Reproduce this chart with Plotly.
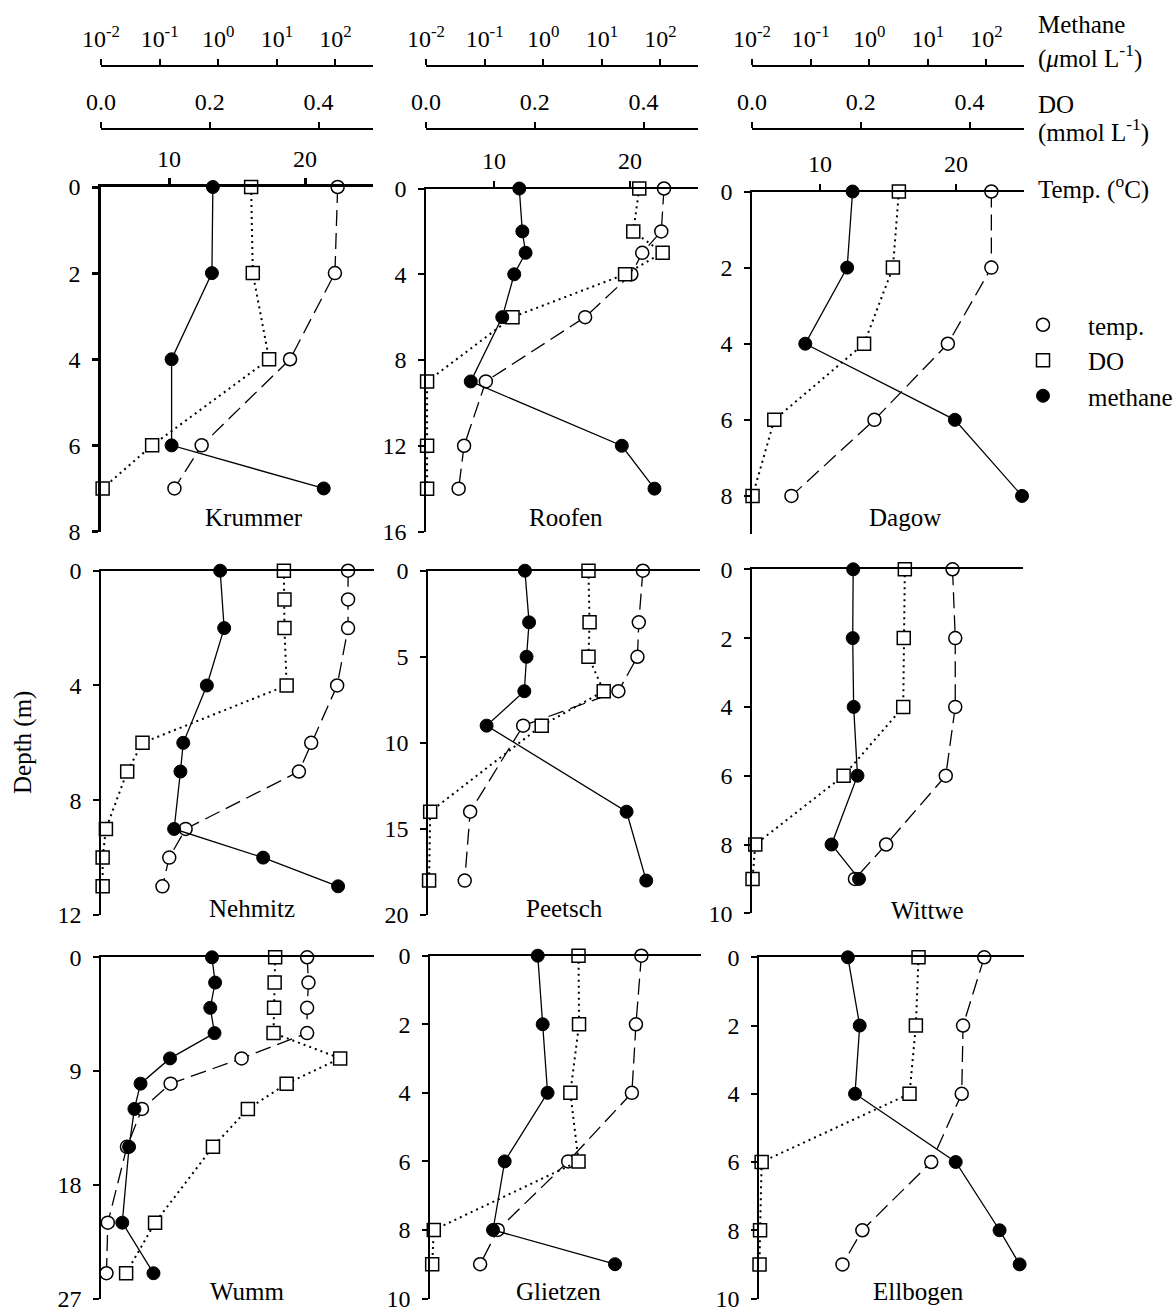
import plotly.graph_objects as go

FONT = "Liberation Serif"
W, H = 1174, 1310

# ---------------- data (depth in m) ----------------
LAKES = ["Krummer", "Roofen", "Dagow", "Nehmitz", "Peetsch", "Wittwe", "Wumm", "Glietzen", "Ellbogen"]

KRUMMER_DEPTH = [0, 2, 4, 6, 7]
KRUMMER_TEMP = [22.4, 22.2, 18.9, 12.4, 10.4]
KRUMMER_DO = [0.276, 0.279, 0.309, 0.094, 0.003]
KRUMMER_CH4 = [0.81, 0.78, 0.16, 0.16, 63]

ROOFEN_DEPTH = [0, 2, 3, 4, 6, 9, 12, 14]
ROOFEN_TEMP = [22.5, 22.3, 20.9, 20.1, 16.7, 9.4, 7.8, 7.4]
ROOFEN_DO = [0.392, 0.381, 0.435, 0.366, 0.159, 0.002, 0.002, 0.002]
ROOFEN_CH4 = [0.39, 0.44, 0.50, 0.32, 0.20, 0.058, 21.9, 79]

DAGOW_DEPTH = [0, 2, 4, 6, 8]
DAGOW_TEMP = [22.6, 22.6, 19.4, 14.0, 7.9]
DAGOW_DO = [0.270, 0.259, 0.206, 0.041, 0.001]
DAGOW_CH4 = [0.52, 0.42, 0.081, 28.9, 404]

NEHMITZ_DEPTH = [0, 1, 2, 4, 6, 7, 9, 10, 11]
NEHMITZ_TEMP = [23.1, 23.1, 23.1, 22.3, 20.4, 19.5, 11.2, 10.0, 9.5]
NEHMITZ_DO = [0.335, 0.336, 0.336, 0.340, 0.076, 0.048, 0.009, 0.003, 0.003]
NEHMITZ_CH4_DEPTH = [0, 2, 4, 6, 7, 9, 10, 11]
NEHMITZ_CH4 = [1.06, 1.24, 0.63, 0.25, 0.224, 0.175, 5.7, 107]

PEETSCH_DEPTH = [0, 3, 5, 7, 9, 14, 18]
PEETSCH_TEMP = [20.8, 20.5, 20.4, 19.0, 12.0, 8.1, 7.7]
PEETSCH_DO = [0.295, 0.297, 0.295, 0.323, 0.209, 0.004, 0.002]
PEETSCH_CH4 = [0.45, 0.53, 0.48, 0.44, 0.10, 24.4, 52.8]

WITTWE_DEPTH = [0, 2, 4, 6, 8, 9]
WITTWE_TEMP = [19.8, 20.0, 20.0, 19.3, 14.9, 12.6]
WITTWE_DO = [0.282, 0.280, 0.279, 0.169, 0.006, 0.001]
WITTWE_CH4 = [0.54, 0.53, 0.55, 0.64, 0.23, 0.68]

WUMM_DEPTH = [0, 2, 4, 6, 8, 10, 12, 15, 21, 25]
WUMM_TEMP = [20.1, 20.2, 20.1, 20.1, 15.3, 10.1, 8.0, 6.9, 5.5, 5.4]
WUMM_DO = [0.319, 0.318, 0.317, 0.316, 0.438, 0.340, 0.269, 0.205, 0.099, 0.046]
WUMM_CH4 = [0.77, 0.87, 0.72, 0.85, 0.149, 0.047, 0.037, 0.030, 0.023, 0.078]

GLIETZEN_DEPTH = [0, 2, 4, 6, 8, 9]
GLIETZEN_TEMP = [20.6, 20.2, 19.9, 15.2, 10.0, 8.7]
GLIETZEN_DO = [0.274, 0.275, 0.259, 0.274, 0.007, 0.004]
GLIETZEN_CH4 = [0.70, 0.85, 1.03, 0.19, 0.12, 14.7]

ELLBOGEN_DEPTH = [0, 2, 4, 6, 8, 9]
ELLBOGEN_TEMP = [22.0, 20.4, 20.3, 18.0, 12.8, 11.3]
ELLBOGEN_DO = [0.301, 0.296, 0.284, 0.005, 0.002, 0.001]
ELLBOGEN_CH4 = [0.36, 0.58, 0.48, 27.8, 163, 366]

DEPTH_MAX = [8, 16, 9, 12, 20, 10, 27, 10, 10]
DEPTH_STEP = [2, 4, 2, 4, 5, 2, 9, 2, 2]

TEMP_TICKS = [10, 20]
DO_TICKS = [0.0, 0.2, 0.4]
DO_LABELS = ["0.0", "0.2", "0.4"]
CH4_TICKS = [0.01, 0.1, 1, 10, 100]
CH4_LABELS = ["10<sup>-2</sup>", "10<sup>-1</sup>", "10<sup>0</sup>", "10<sup>1</sup>", "10<sup>2</sup>"]

SERIES = [
    (KRUMMER_DEPTH, KRUMMER_TEMP, KRUMMER_DEPTH, KRUMMER_DO, KRUMMER_DEPTH, KRUMMER_CH4),
    (ROOFEN_DEPTH, ROOFEN_TEMP, ROOFEN_DEPTH, ROOFEN_DO, ROOFEN_DEPTH, ROOFEN_CH4),
    (DAGOW_DEPTH, DAGOW_TEMP, DAGOW_DEPTH, DAGOW_DO, DAGOW_DEPTH, DAGOW_CH4),
    (NEHMITZ_DEPTH, NEHMITZ_TEMP, NEHMITZ_DEPTH, NEHMITZ_DO, NEHMITZ_CH4_DEPTH, NEHMITZ_CH4),
    (PEETSCH_DEPTH, PEETSCH_TEMP, PEETSCH_DEPTH, PEETSCH_DO, PEETSCH_DEPTH, PEETSCH_CH4),
    (WITTWE_DEPTH, WITTWE_TEMP, WITTWE_DEPTH, WITTWE_DO, WITTWE_DEPTH, WITTWE_CH4),
    (WUMM_DEPTH, WUMM_TEMP, WUMM_DEPTH, WUMM_DO, WUMM_DEPTH, WUMM_CH4),
    (GLIETZEN_DEPTH, GLIETZEN_TEMP, GLIETZEN_DEPTH, GLIETZEN_DO, GLIETZEN_DEPTH, GLIETZEN_CH4),
    (ELLBOGEN_DEPTH, ELLBOGEN_TEMP, ELLBOGEN_DEPTH, ELLBOGEN_DO, ELLBOGEN_DEPTH, ELLBOGEN_CH4),
]

# ---------------- geometry (page pixels) ----------------
P_LEFT = [101, 426, 752, 101, 428, 752, 101, 430, 759]
P_RIGHT = [373, 698, 1024, 374, 700, 1023, 374, 701, 1024]
P_TOP = [187, 188.5, 191.5, 570.7, 570.7, 569.3, 957.3, 955.7, 957.3]
P_BOT = [531.5, 531.5, 534, 915, 915, 913.3, 1298.5, 1298.5, 1298.5]
CH4_AXIS_Y = 66
DO_AXIS_Y = 128.5


def fx(px):
    return px / W


def fy(py):
    return 1 - py / H


TICKFONT = dict(family=FONT, size=24, color="black")
TEXTFONT = dict(family=FONT, size=25, color="black")


def xr(n):
    return "x" if n == 1 else f"x{n}"


def yr(n):
    return "y" if n == 1 else f"y{n}"


def xk(n):
    return "xaxis" if n == 1 else f"xaxis{n}"


def yk(n):
    return "yaxis" if n == 1 else f"yaxis{n}"


fig = go.Figure()
layout = {}

temp_marker = dict(symbol="circle", size=13, color="white", line=dict(color="black", width=1.5))
do_marker = dict(symbol="square", size=13, color="white", line=dict(color="black", width=1.5))
ch4_marker = dict(symbol="circle", size=13, color="black", line=dict(color="black", width=1))

for i, name in enumerate(LAKES):
    xt, xd, xm, yy = 3 * i + 1, 3 * i + 2, 3 * i + 3, i + 1
    first_row = i < 3
    lw = 2.6 if i == 0 else 1.6
    dom_x = [fx(P_LEFT[i]), fx(P_RIGHT[i])]
    dom_y = [fy(P_BOT[i]), fy(P_TOP[i])]

    layout[xk(xt)] = dict(
        domain=dom_x, range=[5, 25], side="top", anchor=yr(yy),
        showline=True, linecolor="black", linewidth=lw,
        ticks="outside" if first_row else "", tickvals=TEMP_TICKS, ticklen=6,
        tickwidth=lw, tickcolor="black", showticklabels=first_row,
        tickfont=TICKFONT, showgrid=False, zeroline=False, ticklabelstandoff=2,
        automargin=False, ticklabeloverflow="allow",
    )
    if first_row:
        layout[xk(xd)] = dict(
            domain=dom_x, range=[0, 0.5], overlaying=xr(xt), anchor="free",
            position=fy(DO_AXIS_Y), side="top", showline=True, linecolor="black",
            linewidth=2, ticks="outside", tickvals=DO_TICKS, ticktext=DO_LABELS,
            ticklen=6, tickwidth=2, tickcolor="black", tickfont=TICKFONT,
            showgrid=False, zeroline=False, ticklabelstandoff=2, automargin=False,
            ticklabeloverflow="allow",
        )
        layout[xk(xm)] = dict(
            domain=dom_x, type="log", range=[-2, 2.64], overlaying=xr(xt), anchor="free",
            position=fy(CH4_AXIS_Y), side="top", showline=True, linecolor="black",
            linewidth=2, ticks="outside", tickvals=CH4_TICKS, ticktext=CH4_LABELS,
            ticklen=6, tickwidth=2, tickcolor="black", tickfont=TICKFONT,
            showgrid=False, zeroline=False, ticklabelstandoff=2, automargin=False,
            ticklabeloverflow="allow",
        )
    else:
        layout[xk(xd)] = dict(domain=dom_x, range=[0, 0.5], overlaying=xr(xt),
                              anchor=yr(yy), visible=False)
        layout[xk(xm)] = dict(domain=dom_x, type="log", range=[-2, 2.64],
                              overlaying=xr(xt), anchor=yr(yy), visible=False)

    layout[yk(yy)] = dict(
        domain=dom_y, range=[DEPTH_MAX[i], 0], anchor=xr(xt),
        showline=True, linecolor="black", linewidth=lw, ticks="outside",
        tickvals=list(range(0, DEPTH_MAX[i] + 1, DEPTH_STEP[i])), ticklen=6,
        tickwidth=lw, tickcolor="black", tickfont=TICKFONT,
        showgrid=False, zeroline=False, ticklabelstandoff=7, automargin=False,
        ticklabeloverflow="allow",
    )

    td, tv, dd, dv, md, mv = SERIES[i]
    fig.add_trace(go.Scatter(
        x=tv, y=td, xaxis=xr(xt), yaxis=yr(yy), mode="lines+markers",
        line=dict(color="black", width=1.3, dash="16px,7px"), marker=temp_marker,
        showlegend=False, cliponaxis=False))
    fig.add_trace(go.Scatter(
        x=dv, y=dd, xaxis=xr(xd), yaxis=yr(yy), mode="lines+markers",
        line=dict(color="black", width=2, dash="2px,4px"), marker=do_marker,
        showlegend=False, cliponaxis=False))
    fig.add_trace(go.Scatter(
        x=mv, y=md, xaxis=xr(xm), yaxis=yr(yy), mode="lines+markers",
        line=dict(color="black", width=1.3), marker=ch4_marker,
        showlegend=False, cliponaxis=False))

# legend-only entries
for nm, mk in [("temp.", temp_marker), ("DO", do_marker), ("methane", ch4_marker)]:
    fig.add_trace(go.Scatter(x=[None], y=[None], mode="markers", marker=mk, name=nm,
                             showlegend=True, xaxis="x", yaxis="y"))

annotations = []
LABEL_POS = [(254, 518), (566, 518), (905, 518), (252, 908), (564, 908), (928, 910),
             (247, 1291), (558, 1291), (918, 1291)]
for name, (px, py) in zip(LAKES, LABEL_POS):
    annotations.append(dict(text=name, x=fx(px), y=fy(py), xref="paper", yref="paper",
                            showarrow=False, xanchor="center", yanchor="middle",
                            font=TEXTFONT))

RIGHT_TEXT = [("Methane", 24), ("(<i>μ</i>mol L<sup>-1</sup>)", 56), ("DO", 104),
              ("(mmol L<sup>-1</sup>)", 130), ("Temp. (<sup>o</sup>C)", 187)]
for txt, py in RIGHT_TEXT:
    annotations.append(dict(text=txt, x=fx(1036), y=fy(py), xref="paper", yref="paper",
                            showarrow=False, xanchor="left", yanchor="middle",
                            font=TEXTFONT))

annotations.append(dict(text="Depth (m)", x=fx(23), y=fy(743), xref="paper", yref="paper",
                        showarrow=False, textangle=-90, xanchor="center", yanchor="middle",
                        font=TEXTFONT))

fig.update_layout(
    width=W, height=H, margin=dict(l=0, r=0, t=0, b=0, autoexpand=False),
    paper_bgcolor="white", plot_bgcolor="rgba(0,0,0,0)",
    font=dict(family=FONT, size=24, color="black"),
    annotations=annotations,
    legend=dict(x=fx(998), y=fy(302), xanchor="left", yanchor="top",
                font=TEXTFONT, bgcolor="rgba(0,0,0,0)", itemwidth=80, tracegroupgap=0),
    **layout,
)

fig.write_html(
    "out.html",
    config={"displayModeBar": False},
    post_script="document.body.style.margin='0';document.body.style.padding='0';"
                "document.body.style.overflow='hidden';",
)
